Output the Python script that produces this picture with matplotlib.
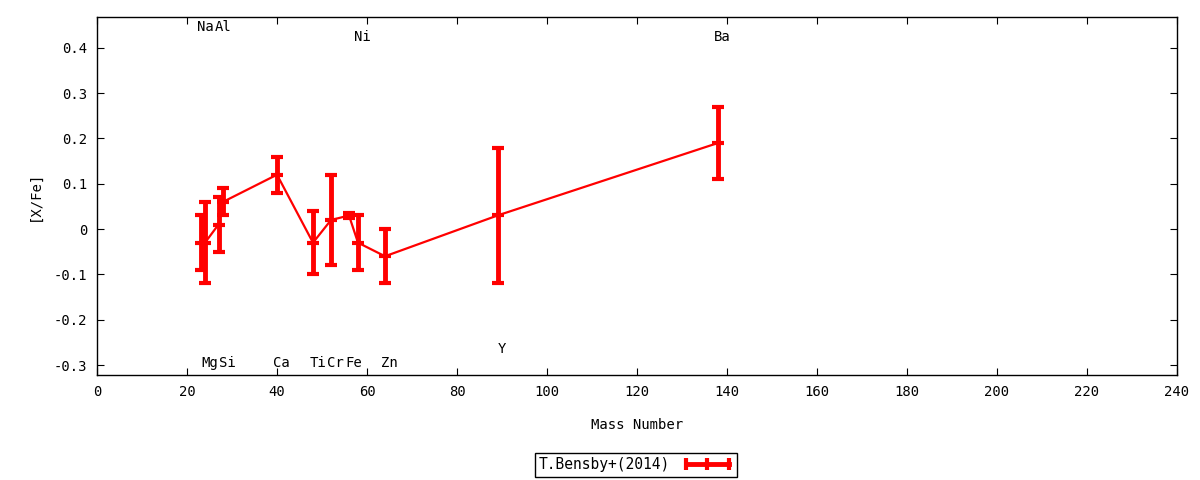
import matplotlib
matplotlib.use("Agg")
import matplotlib.pyplot as plt
from matplotlib.lines import Line2D

# abundances [X/Fe] against mass number
elements = ["Na", "Mg", "Al", "Si", "Ca", "Ti", "Cr", "Fe", "Ni", "Zn", "Y", "Ba"]
mass = [23, 24, 27, 28, 40, 48, 52, 56, 58, 64, 89, 138]
xfe = [-0.03, -0.03, 0.01, 0.06, 0.12, -0.03, 0.02, 0.03, -0.03, -0.06, 0.03, 0.19]
err = [0.06, 0.09, 0.06, 0.03, 0.04, 0.07, 0.10, 0.005, 0.06, 0.06, 0.15, 0.08]

# label heights for the element names
label_y = [0.446, -0.296, 0.446, -0.296, -0.296, -0.296, -0.296, -0.296, 0.424, -0.296, -0.265, 0.424]

plt.rcParams['font.family'] = ['DejaVu Sans Mono']
plt.rcParams['font.size'] = 10

fig = plt.figure(figsize=(12, 4.8), dpi=100)
ax = fig.add_axes([97 / 1200, 1 - 375 / 480, 1080 / 1200, 358 / 480])

ax.errorbar(mass, xfe, yerr=err, color='red', linewidth=1.6,
            elinewidth=3.5, capsize=4, capthick=3,
            marker='_', markersize=9, markeredgewidth=3)

for el, m, ly in zip(elements, mass, label_y):
    ax.text(m + 1, ly, el, ha='center', va='center', fontsize=10)

ax.set_xlim(0, 240)
ax.set_ylim(-0.322, 0.468)
ax.set_xticks(range(0, 241, 20))
ax.set_yticks([-0.3, -0.2, -0.1, 0, 0.1, 0.2, 0.3, 0.4])
ax.set_yticklabels(['-0.3', '-0.2', '-0.1', '0', '0.1', '0.2', '0.3', '0.4'])
ax.tick_params(direction='in', length=5, top=True, right=True, pad=7)
for sp in ax.spines.values():
    sp.set_linewidth(1)

ax.set_xlabel('Mass Number', labelpad=14)
ax.set_ylabel('[X/Fe]', labelpad=9)

# key sample: thick bar with perpendicular ticks, as gnuplot draws it
key = Line2D([], [], color='red', linewidth=3.5, marker='|', markersize=8,
             markeredgewidth=3)
leg = fig.legend(handles=[key], labels=['T.Bensby+(2014)'], loc='center',
                 bbox_to_anchor=(636 / 1200, 1 - 465 / 480), numpoints=3,
                 markerfirst=False, fancybox=False, framealpha=1, edgecolor='black',
                 handlelength=3.5, borderpad=0.3, fontsize=10.5)
leg.get_frame().set_linewidth(1)

fig.savefig('out.png', dpi=100)
